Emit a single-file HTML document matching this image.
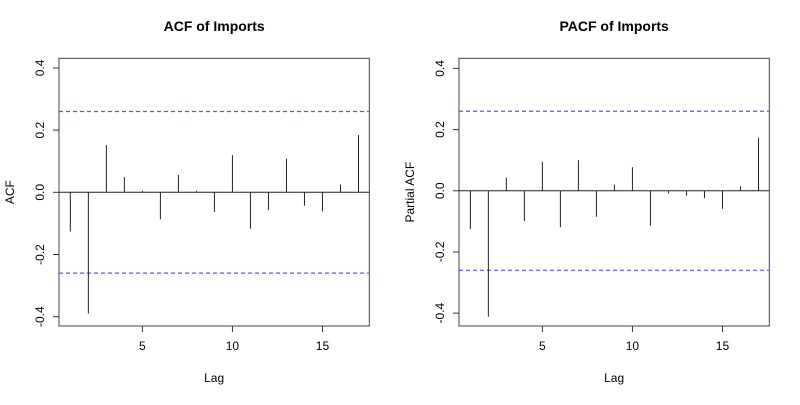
<!DOCTYPE html>
<html><head><meta charset="utf-8"><style>
body{margin:0;background:#fff}
svg{font-family:"Liberation Sans",Arial,sans-serif}
</style></head><body>
<svg id="c" width="800" height="400"></svg>
<script>
const lags=[1,2,3,4,5,6,7,8,9,10,11,12,13,14,15,16,17];
const acfValues=[-0.126,-0.39,0.152,0.049,0.005,-0.087,0.056,0.005,-0.063,0.12,-0.117,-0.057,0.108,-0.043,-0.061,0.025,0.184];
const pacfValues=[-0.125,-0.412,0.043,-0.099,0.095,-0.119,0.1,-0.085,0.02,0.077,-0.114,-0.009,-0.016,-0.024,-0.059,0.015,0.173];
const ciBound=[0.26];
const xTicks=[5,10,15];
const yTicks=[-0.4,-0.2,0.0,0.2,0.4];
const NS='http://www.w3.org/2000/svg';
const svg=document.getElementById('c');
function mk(t,a,p){const e=document.createElementNS(NS,t);for(const k in a)e.setAttribute(k,a[k]);(p||svg).appendChild(e);return e;}
function panel(name,title,ylab,vals,L,R,T,B,ymin,ymax){
  const g=mk('g',{});
  
  
  const xmin=0.37,xmax=17.6;
  const x=v=>L+(v-xmin)/(xmax-xmin)*(R-L);
  const y=v=>T+(ymax-v)/(ymax-ymin)*(B-T);
  const box=mk('rect',{x:L,y:T,width:R-L,height:B-T,fill:'none',stroke:'#444','stroke-width':1},g);
  
  
  const t=mk('text',{x:(L+R)/2,y:31,'text-anchor':'middle','font-size':14,'font-weight':'bold'},g);t.textContent=title;
  
  
  const xl=mk('text',{x:(L+R)/2,y:382,'text-anchor':'middle','font-size':12},g);xl.textContent='Lag';
  
  
  const yl=mk('text',{x:L-45,y:(T+B)/2,'text-anchor':'middle','font-size':12,transform:`rotate(-90 ${L-45} ${(T+B)/2})`},g);yl.textContent=ylab;
  
  
  xTicks.forEach(v=>{
    mk('line',{x1:x(v),x2:x(v),y1:B,y2:B+6,stroke:'#333'},g);
    const tl=mk('text',{x:x(v),y:B+24,'text-anchor':'middle','font-size':12},g);tl.textContent=v;
    
    
  });
  yTicks.forEach(v=>{
    mk('line',{x1:L-6,x2:L,y1:y(v),y2:y(v),stroke:'#333'},g);
    const tx=L-15;
    const tl=mk('text',{x:tx,y:y(v),'text-anchor':'middle','font-size':12,transform:`rotate(-90 ${tx} ${y(v)})`},g);tl.textContent=v.toFixed(1);
    
    
  });
  const z=mk('line',{x1:L,x2:R,y1:y(0),y2:y(0),stroke:'#222'},g);
  
  
  [ciBound[0],-ciBound[0]].forEach(c=>{
    const l=mk('line',{x1:L,x2:R,y1:y(c),y2:y(c),stroke:'#5555ee','stroke-dasharray':'4,3','stroke-width':1.2},g);
    
    
  });
  vals.forEach((v,i)=>{
    const l=mk('line',{x1:x(lags[i]),x2:x(lags[i]),y1:y(0),y2:y(v),stroke:'#222','stroke-width':1},g);
    
    
  });
}
panel('acf','ACF of Imports','ACF',acfValues,59,369.3,58.3,326,-0.43,0.431);
panel('pacf','PACF of Imports','Partial ACF',pacfValues,459,769.3,58.3,326,-0.442,0.433);
</script>
</body></html>
